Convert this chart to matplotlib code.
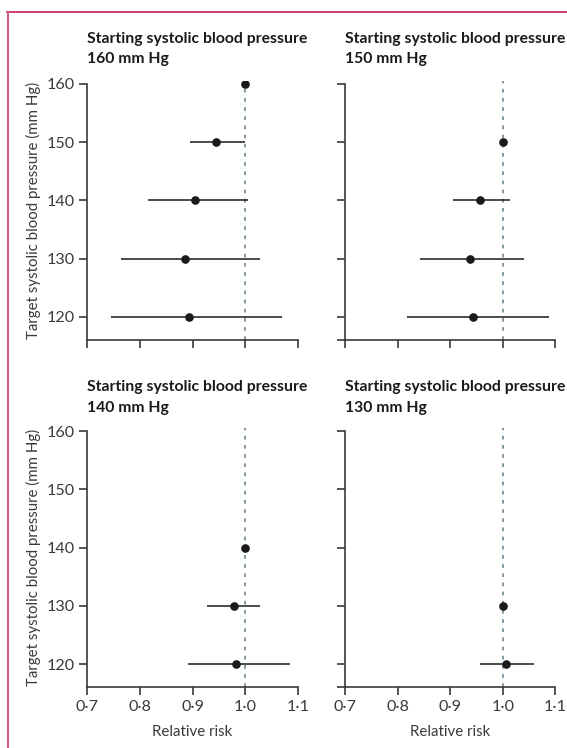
import matplotlib
matplotlib.use("Agg")
import matplotlib.pyplot as plt
from matplotlib.lines import Line2D

plt.rcParams['font.family'] = ['Lato', 'DejaVu Sans']

# ---- data ----
starting_bp = [160, 150, 140, 130]
targets_160 = [160, 150, 140, 130, 120]
rr_160 = [1.0, 0.944, 0.905, 0.886, 0.893]
lo_160 = [1.0, 0.895, 0.815, 0.764, 0.745]
hi_160 = [1.0, 1.0, 1.005, 1.028, 1.071]

targets_150 = [150, 140, 130, 120]
rr_150 = [1.0, 0.957, 0.937, 0.943]
lo_150 = [1.0, 0.905, 0.843, 0.817]
hi_150 = [1.0, 1.014, 1.041, 1.088]

targets_140 = [140, 130, 120]
rr_140 = [1.0, 0.978, 0.983]
lo_140 = [1.0, 0.928, 0.892]
hi_140 = [1.0, 1.029, 1.085]

targets_130 = [130, 120]
rr_130 = [1.0, 1.006]
lo_130 = [1.0, 0.957]
hi_130 = [1.0, 1.059]

x_ticks = [0.7, 0.8, 0.9, 1.0, 1.1]
x_ticklabels = ['0·7', '0·8', '0·9', '1·0', '1·1']
y_ticks = [120, 130, 140, 150, 160]
y_ticklabels = ['120', '130', '140', '150', '160']

panels = [
    (targets_160, rr_160, lo_160, hi_160),
    (targets_150, rr_150, lo_150, hi_150),
    (targets_140, rr_140, lo_140, hi_140),
    (targets_130, rr_130, lo_130, hi_130),
]

W, H = 567, 748
fig = plt.figure(figsize=(W / 100, H / 100), dpi=100)

SPINE = '#3a3a3a'
DASH = '#6c8796'
BORDER = '#c81e4e'
TXT = '#3a3a3a'

ax_w = 210.4 / W
ax_h = 0.3462
lefts = [87.3 / W, 345.0 / W]
bottoms = [1 - 340.0 / H, 1 - 687.3 / H]
title_y = [(42.7, 63.3), (391.5, 412.0)]

ylo, yhi = 116.0, 160.5

for i, (tg, rr, lo, hi) in enumerate(panels):
    row, col = divmod(i, 2)
    ax = fig.add_axes([lefts[col], bottoms[row], ax_w, ax_h])
    ax.set_xlim(0.7, 1.1)
    ax.set_ylim(ylo, yhi)
    ax.axvline(1.0, color=DASH, lw=1.2, ls=(0, (2.2, 3.3)), zorder=1)
    xerr = [[r - l for r, l in zip(rr, lo)], [h - r for r, h in zip(rr, hi)]]
    ax.errorbar(rr, tg, xerr=xerr, fmt='o', color='#1a1a1a', ecolor='#1a1a1a',
                elinewidth=1.1, markersize=5.2, capsize=0, zorder=3)
    for s in ['top', 'right']:
        ax.spines[s].set_visible(False)
    for s in ['left', 'bottom']:
        ax.spines[s].set_color(SPINE)
        ax.spines[s].set_linewidth(1.2)
    ax.spines['left'].set_bounds(ylo, 160)
    ax.tick_params(axis='both', direction='out', length=5.8, width=1.2, color=SPINE,
                   labelsize=11.6, labelcolor=TXT, pad=3.5)
    ax.set_xticks(x_ticks)
    if row == 1:
        ax.set_xticklabels(x_ticklabels)
        ax.set_xlabel('Relative risk', fontsize=10.8, color=TXT, labelpad=8)
    else:
        ax.set_xticklabels([])
    if col == 0:
        ax.set_yticks(y_ticks)
        ax.set_yticklabels(y_ticklabels)
        ax.set_ylabel('Target systolic blood pressure (mm Hg)', fontsize=10.8,
                      color=TXT, labelpad=4)
    else:
        ax.set_yticks([ylo] + y_ticks)
        ax.set_yticklabels([])
    ty1, ty2 = title_y[row]
    fig.text(lefts[col], 1 - ty1 / H, 'Starting systolic blood pressure',
             fontsize=11.3, fontweight='bold', color='#1a1a1a', va='baseline', ha='left')
    fig.text(lefts[col], 1 - ty2 / H, f'{starting_bp[i]} mm Hg',
             fontsize=11.3, fontweight='bold', color='#1a1a1a', va='baseline', ha='left')

# frame rules
fig.add_artist(Line2D([7.0 / W, 1.0], [1 - 12.3 / H, 1 - 12.3 / H], color=BORDER, lw=1.2,
                      transform=fig.transFigure))
fig.add_artist(Line2D([7.5 / W, 7.5 / W], [0, 1 - 12.3 / H], color='#d65a80', lw=1.4,
                      transform=fig.transFigure))

fig.savefig('out.png', dpi=100)
